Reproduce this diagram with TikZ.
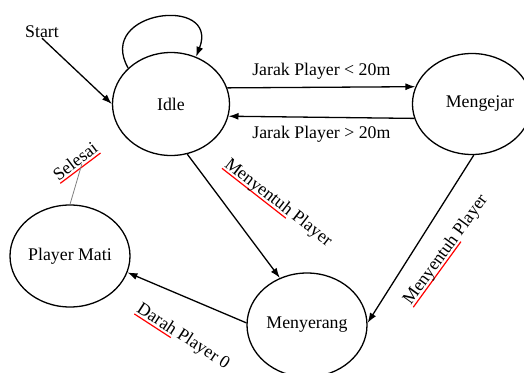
\documentclass[tikz,border=0pt]{standalone}
\usepackage{fontspec}
\setmainfont{Liberation Serif}
\usetikzlibrary{shapes.geometric,arrows.meta}
% red spell-check mark under a word
\newsavebox\spellbox
\newcommand\spellmark[1]{\leavevmode\sbox\spellbox{#1}\smash{\rlap{\color{red}\rule[-3.5pt]{\wd\spellbox}{1.2pt}}}\usebox\spellbox}

\begin{document}
\begin{tikzpicture}[x=1pt,y=-1pt,
  font=\fontsize{17.8}{21}\selectfont,
  state/.style={draw, ellipse, line width=1.3pt, inner sep=0pt},
  arr/.style={line width=1.3pt, -{Latex[length=10pt,width=7pt]}},
  lbl/.style={inner sep=0pt}]
\useasboundingbox (0,0) rectangle (524,372);
\clip (0,0) rectangle (524,372);

% states
\node[state, minimum width=117pt, minimum height=103pt] (idle) at (171,104) {Idle};
\node[state, minimum width=114pt, minimum height=101pt] (meng) at (472,104) {\hspace*{16pt}Mengejar};
\node[state, minimum width=120pt, minimum height=104pt] (meny) at (307,325) {Menyerang};
\node[state, minimum width=120pt, minimum height=102pt] (mati) at (70,256) {Player Mati};

% start marker
\node[lbl] (start) at (42,32) {Start};
\draw[arr] (start.south) -- (idle.180);

% idle self loop
\draw[arr] (idle.140) .. controls (95,10) and (220,-5) .. (idle.62);

% idle <-> mengejar
\draw[arr] (idle.16.05) -- (meng.163.5)
  node[lbl, midway, above=7pt] {Jarak Player < 20m};
\draw[arr] (meng.-166.7) -- (idle.-12.9)
  node[lbl, midway, below=8.5pt] {Jarak Player > 20m};

% attack transitions
\draw[arr] (idle.-72) -- (meny.120);
\node[lbl, rotate=-38] (touch1) at (278,203) {\spellmark{Menyentuh} Player};
\draw[arr] (meng.-88) -- (meny.2);
\node[lbl, rotate=54] (touch2) at (446,250) {\spellmark{Menyentuh} Player};

% player dies
\draw[arr] (meny.178) -- (mati.-16);
\node[lbl, rotate=-33] (darah) at (183,337) {\spellmark{Darah} Player 0};

% end
\node[lbl, rotate=37] (selesai) at (75,161) {\spellmark{Selesai}};
\draw[gray, line width=0.8pt] (mati.north) -- (selesai.-60);
\end{tikzpicture}
\end{document}
